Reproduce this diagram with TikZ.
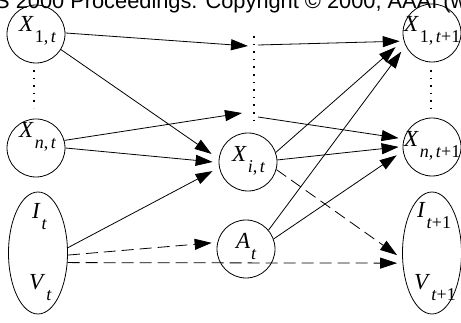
\documentclass[tikz,border=0pt]{standalone}
\usepackage{fontspec}
\setmainfont{Liberation Serif}
\newfontfamily\hdrfont{Liberation Sans}
\usetikzlibrary{arrows.meta,shapes.geometric}

% variable name with a lowered subscript
\newcommand{\vx}[2]{\fontsize{23}{23}\selectfont\textit{#1}\kern0.8pt\raisebox{-10.5pt}{\fontsize{18}{18}\selectfont #2}}

\tikzset{
  var/.style={circle, draw, line width=0.8pt, minimum size=58pt, inner sep=0pt},
  grp/.style={ellipse, draw, line width=0.8pt, minimum width=59pt, minimum height=122pt, inner sep=0pt},
  lbl/.style={anchor=base west, inner sep=0pt},
  arr/.style={line width=0.8pt, -{Triangle[length=17pt,width=11pt]}},
  darr/.style={arr, dash pattern=on 12pt off 6pt},
  dotcol/.style={line width=1.7pt, dash pattern=on 1.7pt off 5.9pt},
}

\begin{document}
\begin{tikzpicture}[x=1pt,y=-1pt]
\useasboundingbox (0,0) rectangle (461,323);
\clip (0,0) rectangle (461,323);

% running header across the top
\node[anchor=base west, inner sep=0pt, font=\hdrfont\fontsize{21.8}{22}\selectfont] (hdr) at (-5,8.5)
  {S 2000 Proceedings. Copyright © 2000, AAAI (w};

% state variables at time t and t+1
\node[var] (x1t) at (36,34) {};
\node[var] (xnt) at (36,148) {};
\node[var] (xit) at (248,162) {};
\node[var] (at)  at (246,249) {};
\node[var] (x1n) at (432,33) {};
\node[var] (xnn) at (432,147) {};
\node[grp] (ivt) at (38,253) {};
\node[grp] (ivn) at (432,253) {};

% labels
\node[lbl] (x1t-l) at ([shift={(-17,-2)}]x1t.center) {\vx{X}{1,\kern2.5pt\textit{t}}};
\node[lbl] (xnt-l) at ([shift={(-17,-10)}]xnt.center) {\vx{X}{\textit{n},\kern2.5pt\textit{t}}};
\node[lbl] (xit-l) at ([shift={(-16,0)}]xit.center) {\vx{X}{\textit{i},\kern2.5pt\textit{t}}};
\node[lbl] (at-l)  at ([shift={(-10,0)}]at.center) {\vx{A}{\textit{t}}};
\node[lbl] (x1n-l) at ([shift={(-28,-1)}]x1n.center) {\vx{X}{1,\kern2.5pt\textit{t}+1}};
\node[lbl] (xnn-l) at ([shift={(-28,0)}]xnn.center) {\vx{X}{\textit{n},\kern2.5pt\textit{t}+1}};
\node[lbl] (it-l)  at ([shift={(-6,-34)}]ivt.center) {\vx{I}{\textit{t}}};
\node[lbl] (vt-l)  at ([shift={(-9,37)}]ivt.center) {\vx{V}{\textit{t}}};
\node[lbl] (in-l)  at ([shift={(-15,-35)}]ivn.center) {\vx{I}{\textit{t}+1}};
\node[lbl] (vn-l)  at ([shift={(-18,37)}]ivn.center) {\vx{V}{\textit{t}+1}};

% elided variables
\coordinate (dl1) at (34,70);  \coordinate (dl2) at (34,108);
\coordinate (dm1) at (254,36); \coordinate (dm2) at (254,127);
\coordinate (dr1) at (431,70); \coordinate (dr2) at (431,109);
\draw[dotcol] (dl1) -- (dl2);
\draw[dotcol] (dm1) -- (dm2);
\draw[dotcol] (dr1) -- (dr2);

\coordinate (d1in)  at (248,46);
\coordinate (d1out) at (258,45);
\coordinate (d2in)  at (242,113);
\coordinate (d2out) at (258,117);

% dependencies
\draw[arr] (x1t.2) -- (d1in);
\draw[arr, shorten >=4pt] (d1out) -- (x1n.196);
\draw[arr, shorten >=8.7pt] (x1t.-32) -- (xit.174);
\draw[arr] (xnt.15) -- (d2in);
\draw[arr, shorten >=6pt] (xnt.0) -- (xit.181);
\draw[arr, shorten >=5.2pt] (d2out) -- (xnn.164);
\draw[arr, shorten >=10.5pt] (xit.19) -- (x1n.194);
\draw[arr, shorten >=7.2pt] (at.40) -- (x1n.206);
\draw[arr, shorten >=4pt] (xit.4) -- (xnn.179);
\draw[arr, shorten >=7.5pt] (at.20) -- (xnn.188);
\draw[darr, shorten >=6.3pt] (xit.-15) -- (ivn.191);
\draw[arr, shorten >=7.4pt] (ivt.10) -- (xit.191);
\draw[darr, shorten >=5.7pt] (ivt.-4) -- (at.167);
\draw[darr, shorten >=5.4pt] (ivt.-18) -- (ivn.199);
\end{tikzpicture}
\end{document}
